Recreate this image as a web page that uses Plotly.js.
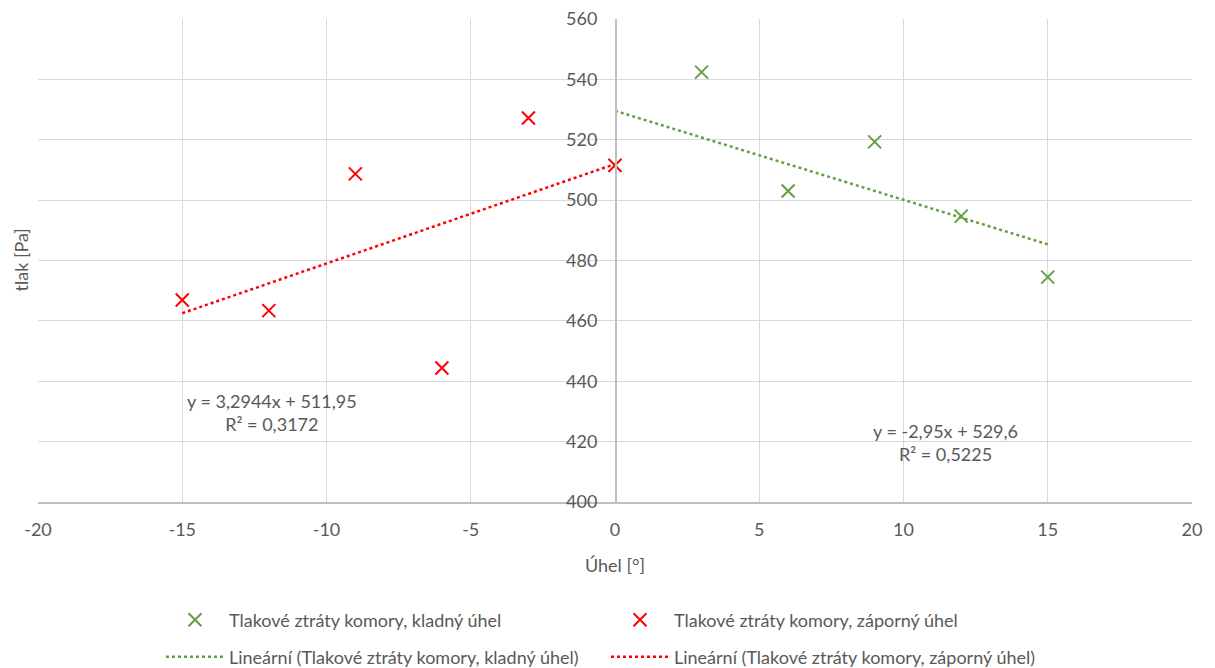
<!DOCTYPE html>
<html>
<head>
<meta charset="utf-8">
<script src="https://cdn.plot.ly/plotly-3.0.1.min.js"></script>
<style>html,body{margin:0;padding:0;background:#fff;}#chart{width:1215px;height:668px;}</style>
</head>
<body>
<div id="chart"></div>
<script>
// Data
const posAngles = [0, 3, 6, 9, 12, 15];
const posPressure = [511.5, 542.4, 503.0, 519.3, 494.7, 474.5];
const negAngles = [-15, -12, -9, -6, -3, 0];
const negPressure = [466.9, 463.4, 508.7, 444.4, 527.2, 511.5];
// Trendline coefficients as printed in the chart
const posTrend = {slope: -2.95, intercept: 529.6, r2: 0.5225};
const negTrend = {slope: 3.2944, intercept: 511.95, r2: 0.3172};
const posName = 'Tlakové ztráty komory, kladný úhel';
const negName = 'Tlakové ztráty komory, záporný úhel';
const xTicks = [-20, -15, -10, -5, 0, 5, 10, 15, 20];
const yTicks = [400, 420, 440, 460, 480, 500, 520, 540, 560];

const GREEN = '#659F45';
const RED = '#FF0000';
const FONT = 'Lato, "Open Sans", sans-serif';
const GREY = '#595959';
const FS = 18;

function trendLine(xs, t) {
  const x0 = Math.min(...xs), x1 = Math.max(...xs);
  return {x: [x0, x1], y: [t.slope * x0 + t.intercept, t.slope * x1 + t.intercept]};
}
function fmt(v) { return String(v).replace('.', ','); }
function eqText(t) {
  const sign = t.slope < 0 ? '-' : '';
  return 'y = ' + sign + fmt(Math.abs(t.slope)) + 'x + ' + fmt(t.intercept) + '<br>R² = ' + fmt(t.r2);
}

const pl = trendLine(posAngles, posTrend);
const nl = trendLine(negAngles, negTrend);

const traces = [
  {x: pl.x, y: pl.y, mode: 'lines', name: 'Lineární (' + posName + ')',
   line: {color: GREEN, width: 2.5, dash: 'dot'}, legend: 'legend2', hoverinfo: 'skip'},
  {x: nl.x, y: nl.y, mode: 'lines', name: 'Lineární (' + negName + ')',
   line: {color: RED, width: 2.5, dash: 'dot'}, legend: 'legend2', hoverinfo: 'skip'},
  {x: posAngles, y: posPressure, mode: 'markers', name: posName,
   marker: {symbol: 'x-thin', size: 13, line: {color: GREEN, width: 2}, color: GREEN}},
  {x: negAngles, y: negPressure, mode: 'markers', name: negName,
   marker: {symbol: 'x-thin', size: 13, line: {color: RED, width: 2}, color: RED}}
];

const legendCommon = {
  orientation: 'h', xref: 'container', yref: 'container',
  xanchor: 'left', yanchor: 'middle',
  entrywidth: 372, itemwidth: 58, traceorder: 'normal',
  font: {family: FONT, size: FS, color: GREY}, bgcolor: 'rgba(0,0,0,0)'
};

const layout = {
  width: 1215, height: 668,
  paper_bgcolor: '#fff', plot_bgcolor: '#fff',
  margin: {l: 38, r: 23, t: 19, b: 166},
  font: {family: FONT, size: FS, color: GREY},
  showlegend: true,
  xaxis: {
    range: [-20, 20], tickvals: xTicks, ticktext: xTicks.map(String),
    showgrid: true, gridcolor: '#D9D9D9', gridwidth: 1,
    zeroline: false, showline: true, linecolor: '#BFBFBF', linewidth: 1.5,
    ticks: '', ticklabelstandoff: 11,
    tickfont: {family: FONT, size: FS, color: GREY},
    title: {text: 'Úhel [°]', font: {family: FONT, size: FS, color: GREY}, standoff: 20}
  },
  yaxis: {
    range: [400, 560], tickvals: yTicks, ticktext: yTicks.map(String),
    anchor: 'free', position: 0.5,
    showgrid: true, gridcolor: '#D9D9D9', gridwidth: 1,
    zeroline: false, showline: true, linecolor: '#BFBFBF', linewidth: 1.5,
    ticks: '', ticklabelstandoff: 14,
    tickfont: {family: FONT, size: FS, color: GREY}
  },
  annotations: [
    {x: 0, y: 0.5, xref: 'paper', yref: 'paper', xanchor: 'center', yanchor: 'middle', xshift: -18,
     text: 'tlak [Pa]', textangle: -90, showarrow: false, font: {family: FONT, size: FS, color: GREY}},
    {x: -11.9, y: 429.8, xref: 'x', yref: 'y', text: eqText(negTrend), showarrow: false, align: 'center',
     font: {family: FONT, size: FS, color: GREY}},
    {x: 11.45, y: 419.6, xref: 'x', yref: 'y', text: eqText(posTrend), showarrow: false, align: 'center',
     font: {family: FONT, size: FS, color: GREY}}
  ],
  legend: Object.assign({}, legendCommon, {x: 161 / 1215, y: 1 - 620 / 668}),
  legend2: Object.assign({}, legendCommon, {x: 161 / 1215, y: 1 - 657 / 668})
};

Plotly.newPlot('chart', traces, layout, {displayModeBar: false, staticPlot: true});
</script>
</body>
</html>
